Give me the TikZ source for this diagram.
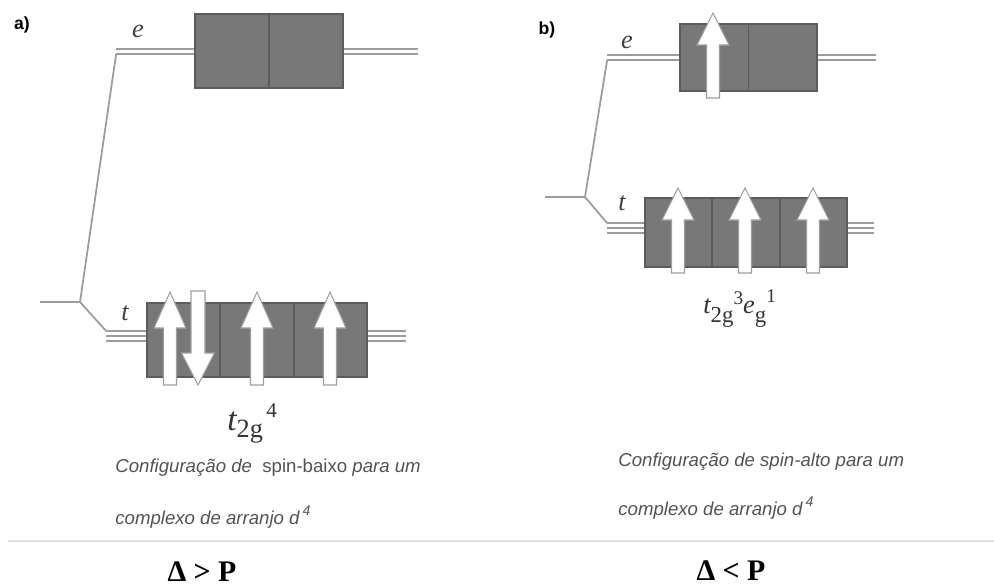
\documentclass[tikz,border=0pt]{standalone}
\usepackage{fontspec}
\setmainfont{Liberation Serif}
\setsansfont{Liberation Sans}
\usepackage{tikz}
\usetikzlibrary{calc, positioning}
\definecolor{orbfill}{HTML}{787878}
\definecolor{orbedge}{HTML}{5C5C5C}
\definecolor{levelgray}{HTML}{9C9C9C}
\tikzset{
    orbital/.style={rectangle, draw=orbedge, line width=1pt, fill=orbfill, inner sep=0pt},
    cell/.style={draw=orbedge, line width=1pt},
    level/.style={draw=levelgray, line width=0.8pt},
    split/.style={draw=levelgray, line width=1pt},
    spin/.style={draw=gray!75, fill=white, line width=0.6pt, line join=miter},
    lvlname/.style={font=\itshape\fontsize{15}{15}\selectfont, text=black!75, inner sep=0pt},
    panel/.style={font=\sffamily\bfseries\fontsize{10}{12}\selectfont, inner sep=0pt},
    caption/.style={font=\sffamily\itshape\fontsize{10.6}{12}\selectfont, text=black!68, anchor=west, inner sep=0pt},
    config/.style={anchor=base west, inner sep=0pt, text=black!80},
    cond/.style={font=\bfseries\fontsize{17}{20}\selectfont, inner sep=0pt},
    rule/.style={draw=gray!25, line width=0.8pt}
}
% spin arrows: x, tip/top, bottom/tip, head length
\newcommand{\spinup}[4]{%
  \draw[spin] ({#1-6.5},#3) -- ({#1-6.5},{#2+#4}) -- ({#1-16},{#2+#4}) -- (#1,#2)
    -- ({#1+16},{#2+#4}) -- ({#1+6.5},{#2+#4}) -- ({#1+6.5},#3) -- cycle;}
\newcommand{\spindown}[4]{%
  \draw[spin] ({#1-7},#2) -- ({#1-7},{#3-#4}) -- ({#1-16.5},{#3-#4}) -- (#1,#3)
    -- ({#1+16.5},{#3-#4}) -- ({#1+7},{#3-#4}) -- ({#1+7},#2) -- cycle;}

\begin{document}
\begin{tikzpicture}[x=0.02cm, y=-0.02cm]
    \useasboundingbox (0,0) rectangle (994,588);

    % a) spin-baixo
    \node[panel] (labA) at (22,25) {a)};
    \node[orbital, minimum width=2.96cm, minimum height=1.48cm] (eA) at (269,51) {};
    \node[orbital, minimum width=4.4cm, minimum height=1.48cm] (tA) at (257,340) {};
    \draw[cell] (eA.north) -- (eA.south);
    \draw[cell] ($(tA.north west)!1/3!(tA.north east)$) -- ($(tA.south west)!1/3!(tA.south east)$);
    \draw[cell] ($(tA.north west)!2/3!(tA.north east)$) -- ($(tA.south west)!2/3!(tA.south east)$);

    % degenerate levels
    \foreach \dy in {-2,3} {
        \draw[level] ($(eA.west)+(-78,\dy)$) -- ($(eA.west)+(0,\dy)$);
        \draw[level] ($(eA.east)+(0,\dy)$) -- ($(eA.east)+(74,\dy)$);
    }
    \foreach \dy in {-9,-4,1} {
        \draw[level] ($(tA.west)+(-40,\dy)$) -- ($(tA.west)+(0,\dy)$);
        \draw[level] ($(tA.east)+(0,\dy)$) -- ($(tA.east)+(38,\dy)$);
    }

    % splitting
    \coordinate (ionA) at (40,302);
    \coordinate (freeA) at (80,302);
    \coordinate (eAend) at ($(eA.west)+(-78,3)$);
    \coordinate (tAend) at ($(tA.west)+(-40,-9)$);
    \draw[split] (ionA) -- (freeA) -- (eAend);
    \draw[split] (freeA) -- (tAend);
    \node[lvlname] (eAname) at (138,31) {e};
    \node[lvlname] (tAname) at (125,313) {t};

    \spinup{170}{292}{385}{36}
    \spindown{198}{291}{385}{32}
    \spinup{257}{292}{385}{36}
    \spinup{330}{292}{385}{36}

    \node[config] (cfgA) at (227,430) {\fontsize{19}{22}\selectfont\itshape t\upshape\raisebox{-4.5pt}{\fontsize{15}{15}\selectfont 2g}\raisebox{7pt}{\fontsize{12}{12}\selectfont\,4}};

    \node[caption] (capA1) at (115,468) {Configuração de \ \upshape spin-baixo \itshape para um};
    \node[caption] (capA2) at (115,517) {complexo de arranjo d\,\raisebox{5pt}{\fontsize{8}{8}\selectfont 4}};

    % b) spin-alto
    \node[panel] (labB) at (547,30) {b)};
    \node[orbital, minimum width=2.74cm, minimum height=1.34cm] (eB) at (748.5,57.5) {};
    \node[orbital, minimum width=4.04cm, minimum height=1.38cm] (tB) at (746,232.5) {};
    \draw[cell] (eB.north) -- (eB.south);
    \draw[cell] ($(tB.north west)!1/3!(tB.north east)$) -- ($(tB.south west)!1/3!(tB.south east)$);
    \draw[cell] ($(tB.north west)!2/3!(tB.north east)$) -- ($(tB.south west)!2/3!(tB.south east)$);

    \foreach \dy in {-2.5,2.5} {
        \draw[level] ($(eB.west)+(-72,\dy)$) -- ($(eB.west)+(0,\dy)$);
        \draw[level] ($(eB.east)+(0,\dy)$) -- ($(eB.east)+(58,\dy)$);
    }
    \foreach \dy in {-9.5,-4.5,0.5} {
        \draw[level] ($(tB.west)+(-37,\dy)$) -- ($(tB.west)+(0,\dy)$);
        \draw[level] ($(tB.east)+(0,\dy)$) -- ($(tB.east)+(26,\dy)$);
    }

    \coordinate (ionB) at (545,197);
    \coordinate (freeB) at (585,197);
    \coordinate (eBend) at ($(eB.west)+(-72,2.5)$);
    \coordinate (tBend) at ($(tB.west)+(-37,-9.5)$);
    \draw[split] (ionB) -- (freeB) -- (eBend);
    \draw[split] (freeB) -- (tBend);
    \node[lvlname] (eBname) at (627,42) {e};
    \node[lvlname] (tBname) at (622,203) {t};

    \spinup{713}{13}{98}{32}
    \spinup{678}{188}{273}{32}
    \spinup{745}{188}{273}{32}
    \spinup{813}{188}{273}{32}

    \node[config] (cfgB) at (703,313) {\fontsize{15}{18}\selectfont\itshape t\upshape\raisebox{-5.5pt}{\fontsize{13}{13}\selectfont 2g}\raisebox{5pt}{\fontsize{11}{11}\selectfont 3}\itshape e\upshape\raisebox{-5.5pt}{\fontsize{13}{13}\selectfont g}\raisebox{6pt}{\fontsize{11}{11}\selectfont 1}};

    \node[caption] (capB1) at (618,462) {Configuração de spin-alto para um};
    \node[caption] (capB2) at (618,508) {complexo de arranjo d\,\raisebox{5pt}{\fontsize{8}{8}\selectfont 4}};

    % bottom row
    \draw[rule] (8,541) -- (994,541);
    \node[cond] (condA) at (202,572) {Δ > P};
    \node[cond] (condB) at (731,571) {Δ < P};
\end{tikzpicture}
\end{document}
